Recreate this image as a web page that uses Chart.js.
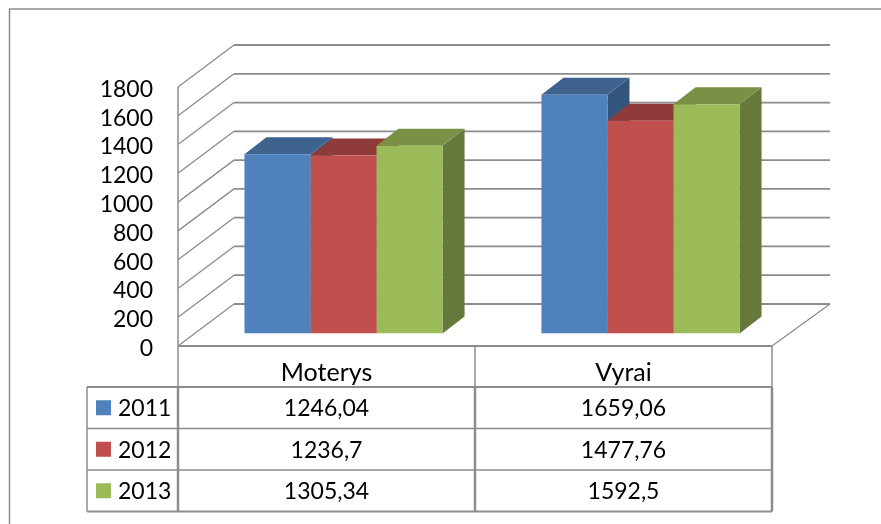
<!DOCTYPE html>
<html>
<head>
<meta charset="utf-8">
<script src="https://cdn.jsdelivr.net/npm/chart.js@4"></script>
<style>
  html, body { margin: 0; padding: 0; background: #fff; }
  canvas { display: block; }
</style>
</head>
<body>
<canvas id="chart" width="881" height="524"></canvas>
<script>
const categories = ['Moterys', 'Vyrai'];
const seriesNames = ['2011', '2012', '2013'];
const values2011 = [1246.04, 1659.06];
const values2012 = [1236.7, 1477.76];
const values2013 = [1305.34, 1592.5];
const yTicks = [0, 200, 400, 600, 800, 1000, 1200, 1400, 1600, 1800];

const seriesValues = [values2011, values2012, values2013];
const frontColors = ['#4f81bd', '#c0504d', '#9bbb59'];
const topColors = ['#3e638f', '#8f3b39', '#7a9145'];
const sideColors = ['#33547d', '#8f3b39', '#66783a'];

const FONT = 'Lato, Carlito, sans-serif';
const FONT_SIZE = 23;
const LINE = '#8c8c8c';
// depth of the 3d box: walls go back by this much
const WALL_DX = 56, WALL_DY = -42, WALL_RIGHT_DX = 58;
// bars stand part way into the floor
const BAR_SHIFT_X = 17, BAR_SHIFT_Y = -12.5;
const BAR_DX = 22, BAR_DY = -17;
// table rows
const TABLE_LEFT = 87, ROW_TOPS = [387, 428.5, 470, 511.5];

function seg(ctx, x1, y1, x2, y2, w, color) {
  ctx.strokeStyle = color || LINE;
  ctx.lineWidth = w;
  ctx.beginPath();
  ctx.moveTo(x1, y1);
  ctx.lineTo(x2, y2);
  ctx.stroke();
}

function poly(ctx, pts, color) {
  ctx.fillStyle = color;
  ctx.beginPath();
  pts.forEach((p, i) => i ? ctx.lineTo(p[0], p[1]) : ctx.moveTo(p[0], p[1]));
  ctx.closePath();
  ctx.fill();
}

function fmt(v) { return String(v).replace('.', ','); }

// walls, floor and outer frame behind the bars, sides and tops of the boxes
const box3d = {
  id: 'box3d',
  afterLayout(chart) {
    // value labels sit a little lower than the font's middle line
    const y = chart.scales.y;
    const drawLabels = y.drawLabels;
    y.drawLabels = function (area) {
      y.ctx.save();
      y.ctx.translate(0, 2.5);
      drawLabels.call(y, area);
      y.ctx.restore();
    };
  },
  beforeDatasetsDraw(chart) {
    const ctx = chart.ctx, a = chart.chartArea, y = chart.scales.y;
    ctx.save();
    seg(ctx, 9.5, 524, 9.5, 9, 1.5);
    seg(ctx, 9, 9, 881, 9, 1.5);

    seg(ctx, a.left, a.top, a.left, a.bottom, 1.5);
    yTicks.forEach(t => {
      const py = y.getPixelForValue(t);
      seg(ctx, a.left, py, a.left + WALL_DX, py + WALL_DY, 1.3);
      seg(ctx, a.left + WALL_DX, py + WALL_DY, a.right + WALL_RIGHT_DX, py + WALL_DY, 1.8);
    });
    seg(ctx, a.left, a.bottom, a.right, a.bottom, 1.8);
    seg(ctx, a.right, a.bottom, a.right + WALL_RIGHT_DX, a.bottom + WALL_DY, 1.3);

    seriesValues.forEach((vals, ds) => {
      chart.getDatasetMeta(ds).data.forEach(bar => {
        const l = bar.x - bar.width / 2 + BAR_SHIFT_X;
        const r = bar.x + bar.width / 2 + BAR_SHIFT_X;
        const t = bar.y + BAR_SHIFT_Y;
        const b = bar.base + BAR_SHIFT_Y;
        poly(ctx, [[r, t], [r + BAR_DX, t + BAR_DY], [r + BAR_DX, b + BAR_DY], [r, b]], sideColors[ds]);
        poly(ctx, [[l, t], [l + BAR_DX, t + BAR_DY], [r + BAR_DX, t + BAR_DY], [r, t]], topColors[ds]);
      });
    });
    // front faces come from the library, moved onto the bar plane
    ctx.restore();
    ctx.save();
    ctx.translate(BAR_SHIFT_X, BAR_SHIFT_Y);
  },
  afterDatasetsDraw(chart) {
    chart.ctx.restore();
  }
};

// data table under the plot
const dataTable = {
  id: 'dataTable',
  afterDraw(chart) {
    const ctx = chart.ctx, a = chart.chartArea, x = chart.scales.x;
    const mid = (a.left + a.right) / 2;
    ctx.save();
    seg(ctx, a.left, a.bottom, a.left, ROW_TOPS[0], 1.5);
    seg(ctx, mid, a.bottom, mid, ROW_TOPS[0], 1.5);
    seg(ctx, a.right, a.bottom, a.right, ROW_TOPS[0], 1.5);

    seg(ctx, TABLE_LEFT, ROW_TOPS[0], a.right, ROW_TOPS[0], 2);
    seg(ctx, TABLE_LEFT, ROW_TOPS[1], a.right, ROW_TOPS[1], 1.5);
    seg(ctx, TABLE_LEFT, ROW_TOPS[2], a.right, ROW_TOPS[2], 1.5);
    seg(ctx, TABLE_LEFT, ROW_TOPS[3], a.right, ROW_TOPS[3], 2);
    [TABLE_LEFT, a.left, mid, a.right].forEach((px, i) => {
      seg(ctx, px, ROW_TOPS[0], px, ROW_TOPS[3], i === 0 ? 1.5 : 2.5);
    });

    ctx.font = FONT_SIZE + 'px ' + FONT;
    ctx.fillStyle = '#000';
    ctx.textBaseline = 'middle';
    seriesNames.forEach((name, row) => {
      const cy = (ROW_TOPS[row] + ROW_TOPS[row + 1]) / 2;
      ctx.fillStyle = frontColors[row];
      ctx.fillRect(96, cy - 7.5, 15, 15);
      ctx.fillStyle = '#000';
      ctx.textAlign = 'left';
      ctx.fillText(name, 118, cy + 1);
      ctx.textAlign = 'center';
      categories.forEach((c, col) => {
        ctx.fillText(fmt(seriesValues[row][col]), x.getPixelForValue(col), cy + 1);
      });
    });
    ctx.restore();
  }
};

new Chart(document.getElementById('chart'), {
  type: 'bar',
  data: {
    labels: categories,
    datasets: seriesNames.map((name, i) => ({
      label: name,
      data: seriesValues[i],
      backgroundColor: frontColors[i],
      borderWidth: 0
    }))
  },
  options: {
    responsive: false,
    animation: false,
    events: [],
    layout: { padding: { left: 0, top: 87, right: 109, bottom: 0 } },
    categoryPercentage: 0.667,
    barPercentage: 1,
    plugins: { legend: { display: false }, tooltip: { enabled: false }, title: { display: false } },
    scales: {
      x: {
        grid: { display: false, drawTicks: false },
        border: { display: false },
        ticks: { color: '#000', padding: 12, maxRotation: 0, font: { family: FONT, size: 25 } },
        afterFit(s) { s.height = 178; }
      },
      y: {
        min: 0,
        max: 1800,
        afterBuildTicks(s) { s.ticks = yTicks.map(v => ({ value: v })); },
        grid: { display: false, drawTicks: false },
        border: { display: false },
        ticks: {
          color: '#000',
          padding: 25,
          autoSkip: false,
          font: { family: FONT, size: FONT_SIZE },
          callback: v => String(v)
        },
        afterFit(s) { s.width = 178; }
      }
    }
  },
  plugins: [box3d, dataTable]
});
</script>
</body>
</html>
